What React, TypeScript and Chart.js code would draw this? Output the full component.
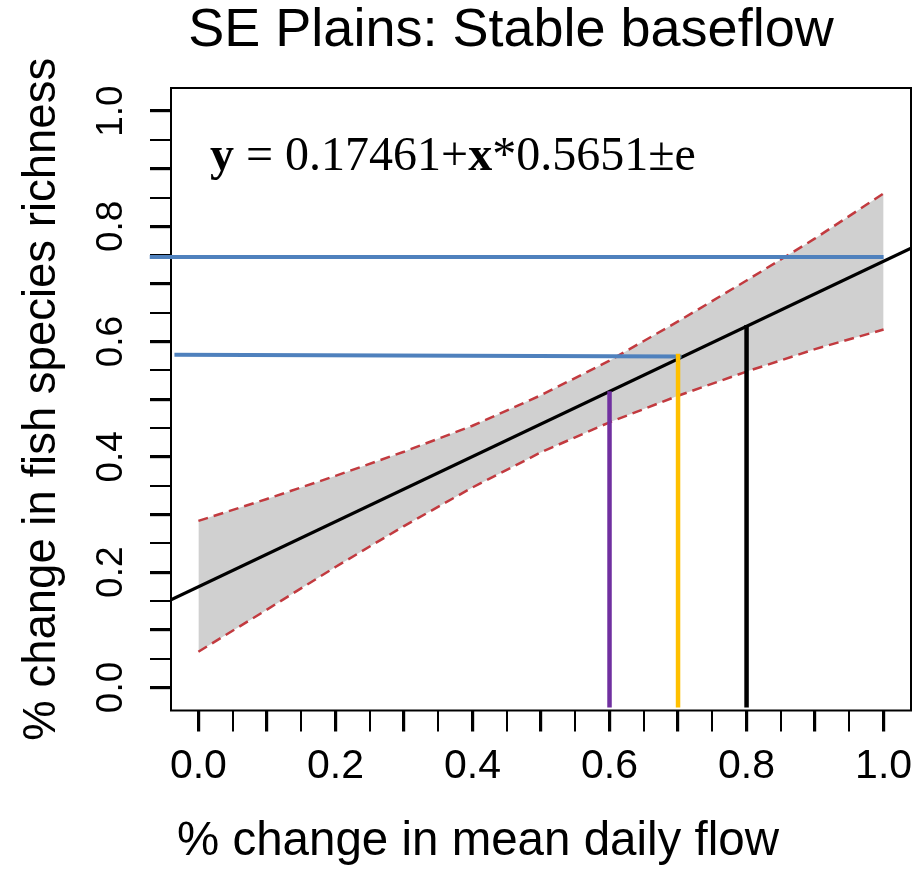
import React, { useEffect, useRef } from 'react';
import { Chart, registerables } from 'chart.js';

Chart.register(...registerables);

// ---------- text ----------
const TITLE = 'SE Plains: Stable baseflow';
const X_TITLE = '% change in mean daily flow';
const Y_TITLE = '% change in fish species richness';
const EQ_PARTS = [
  { t: 'y', b: true },
  { t: ' = 0.17461+', b: false },
  { t: 'x', b: true },
  { t: '*0.5651\u00B1e', b: false },
];

// ---------- axes ----------
const AXIS_MIN = -0.04;
const AXIS_MAX = 1.04;
const tickValues = [0, 0.05, 0.1, 0.15, 0.2, 0.25, 0.3, 0.35, 0.4, 0.45, 0.5, 0.55, 0.6, 0.65, 0.7, 0.75, 0.8, 0.85, 0.9, 0.95, 1.0];
const majorTickValues = [0, 0.1, 0.2, 0.3, 0.4, 0.5, 0.6, 0.7, 0.8, 0.9, 1.0];
const labelValues = [0, 0.2, 0.4, 0.6, 0.8, 1.0];
const tickLabels = ['0.0', '0.2', '0.4', '0.6', '0.8', '1.0'];

// ---------- data ----------
const bandX = [0, 0.1, 0.2, 0.3, 0.4, 0.5, 0.6, 0.7, 0.8, 0.9, 1.0];
const bandUpper = [0.289, 0.327, 0.367, 0.409, 0.454, 0.507, 0.567, 0.635, 0.706, 0.779, 0.857];
const bandLower = [0.062, 0.135, 0.209, 0.28, 0.347, 0.408, 0.46, 0.506, 0.548, 0.587, 0.621];

const regX = [-0.04, 1.04];
const regY = [0.152, 0.762];

const blueUpperX = [-0.071, 1.0];
const blueUpperY = [0.747, 0.747];
const blueLowerX = [-0.035, 0.705];
const blueLowerY = [0.577, 0.574];

const vertX = [0.6, 0.7, 0.8];
const vertTop = [0.514, 0.579, 0.629];
const vertBottom = -0.035;
const vertColors = ['#7030a0', '#ffc000', '#000000'];

const SANS = "'Liberation Sans', Arial, Helvetica, sans-serif";
const SERIF = "'Liberation Serif', 'Times New Roman', Times, serif";

const pts = (xs: number[], ys: number[]) => xs.map((x, i) => ({ x, y: ys[i] }));
const isMajor = (v: number) => majorTickValues.some((m) => Math.abs(m - v) < 1e-9);
const labelFor = (v: number) => {
  const i = labelValues.findIndex((l) => Math.abs(l - v) < 1e-9);
  return i >= 0 ? tickLabels[i] : '';
};
const tickW = (ctx: any) => (ctx.tick && isMajor(ctx.tick.value) ? 3.2 : 2);

const decorPlugin = {
  id: 'decor',
  beforeDatasetsDraw(chart: any) {
    const { ctx, chartArea: a } = chart;
    ctx.save();
    ctx.strokeStyle = '#000';
    ctx.lineWidth = 2;
    ctx.strokeRect(a.left, a.top, a.right - a.left, a.bottom - a.top);
    ctx.restore();
  },
  afterDraw(chart: any) {
    const { ctx } = chart;
    ctx.save();
    ctx.fillStyle = '#000';
    ctx.textBaseline = 'middle';
    ctx.textAlign = 'center';
    ctx.font = `54px ${SANS}`;
    ctx.fillText(TITLE, 511, 31);
    ctx.font = `47.5px ${SANS}`;
    ctx.fillText(X_TITLE, 478, 842);

    ctx.textAlign = 'left';
    ctx.textBaseline = 'alphabetic';
    let x = 210;
    const y = 170;
    for (const p of EQ_PARTS) {
      ctx.font = `${p.b ? 'bold ' : ''}48px ${SERIF}`;
      ctx.fillText(p.t, x, y);
      x += ctx.measureText(p.t).width;
    }
    ctx.restore();
  },
};

export default function App() {
  const ref = useRef<HTMLCanvasElement | null>(null);

  useEffect(() => {
    if (!ref.current) return;
    const lineBase = { pointRadius: 0, pointHoverRadius: 0, tension: 0, fill: false };
    const datasets: any[] = [
      {
        ...lineBase,
        label: 'upper',
        data: pts(bandX, bandUpper),
        borderColor: '#c23a3f',
        borderWidth: 2.5,
        borderDash: [10, 6],
        backgroundColor: '#d0d0d0',
        fill: '+1',
        order: 10,
      },
      {
        ...lineBase,
        label: 'lower',
        data: pts(bandX, bandLower),
        borderColor: '#c23a3f',
        borderWidth: 2.5,
        borderDash: [10, 6],
        order: 9,
      },
      {
        ...lineBase,
        label: 'fit',
        data: pts(regX, regY),
        borderColor: '#000',
        borderWidth: 3.2,
        order: 5,
      },
      {
        ...lineBase,
        label: 'blueUpper',
        data: pts(blueUpperX, blueUpperY),
        borderColor: '#4f81bd',
        borderWidth: 4,
        clip: false,
        order: 2,
      },
      {
        ...lineBase,
        label: 'blueLower',
        data: pts(blueLowerX, blueLowerY),
        borderColor: '#4f81bd',
        borderWidth: 4,
        order: 3,
      },
      ...vertX.map((vx, i) => ({
        ...lineBase,
        label: 'v' + i,
        data: [
          { x: vx, y: vertBottom },
          { x: vx, y: vertTop[i] },
        ],
        borderColor: vertColors[i],
        borderWidth: 4.5,
        order: 1,
      })),
    ];

    const chart = new Chart(ref.current, {
      type: 'line',
      data: { datasets },
      plugins: [decorPlugin],
      options: {
        animation: false,
        responsive: false,
        devicePixelRatio: 1,
        events: [],
        layout: { padding: { left: 0, right: 7, top: 88, bottom: 0 } },
        plugins: {
          legend: { display: false },
          tooltip: { enabled: false },
          title: { display: false },
        },
        scales: {
          x: {
            type: 'linear',
            min: AXIS_MIN,
            max: AXIS_MAX,
            afterBuildTicks: (s: any) => {
              s.ticks = tickValues.map((v) => ({ value: v }));
            },
            afterFit: (s: any) => {
              s.height = 162.5;
              s.paddingLeft = 0;
              s.paddingRight = 0;
            },
            ticks: {
              autoSkip: false,
              maxRotation: 0,
              minRotation: 0,
              padding: 11,
              color: '#000',
              font: { family: SANS, size: 41 },
              callback: (v: any) => labelFor(Number(v)),
            },
            grid: {
              display: true,
              drawOnChartArea: false,
              drawTicks: true,
              tickLength: 21,
              tickColor: '#000',
              tickWidth: tickW,
              lineWidth: tickW,
              color: '#000',
            },
            border: { display: false },
            title: { display: false },
          },
          y: {
            type: 'linear',
            position: 'left',
            min: AXIS_MIN,
            max: AXIS_MAX,
            afterBuildTicks: (s: any) => {
              s.ticks = tickValues.map((v) => ({ value: v }));
            },
            afterFit: (s: any) => {
              s.width = 171;
              s.paddingTop = 0;
              s.paddingBottom = 0;
            },
            ticks: {
              autoSkip: false,
              minRotation: 90,
              maxRotation: 90,
              crossAlign: 'center',
              padding: 12,
              color: '#000',
              font: { family: SANS, size: 37 },
              callback: (v: any) => labelFor(Number(v)),
            },
            grid: {
              display: true,
              drawOnChartArea: false,
              drawTicks: true,
              tickLength: 21,
              tickColor: '#000',
              tickWidth: tickW,
              lineWidth: tickW,
              color: '#000',
            },
            border: { display: false },
            title: {
              display: true,
              text: Y_TITLE,
              color: '#000',
              font: { family: SANS, size: 45.5 },
              padding: { top: 15, bottom: 0 },
            },
          },
        },
      } as any,
    });
    return () => chart.destroy();
  }, []);

  return (
    <div style={{ position: 'absolute', left: 0, top: 0, width: 918, height: 873, background: '#fff' }}>
      <canvas ref={ref} width={918} height={873} style={{ display: 'block', width: 918, height: 873 }} />
    </div>
  );
}
